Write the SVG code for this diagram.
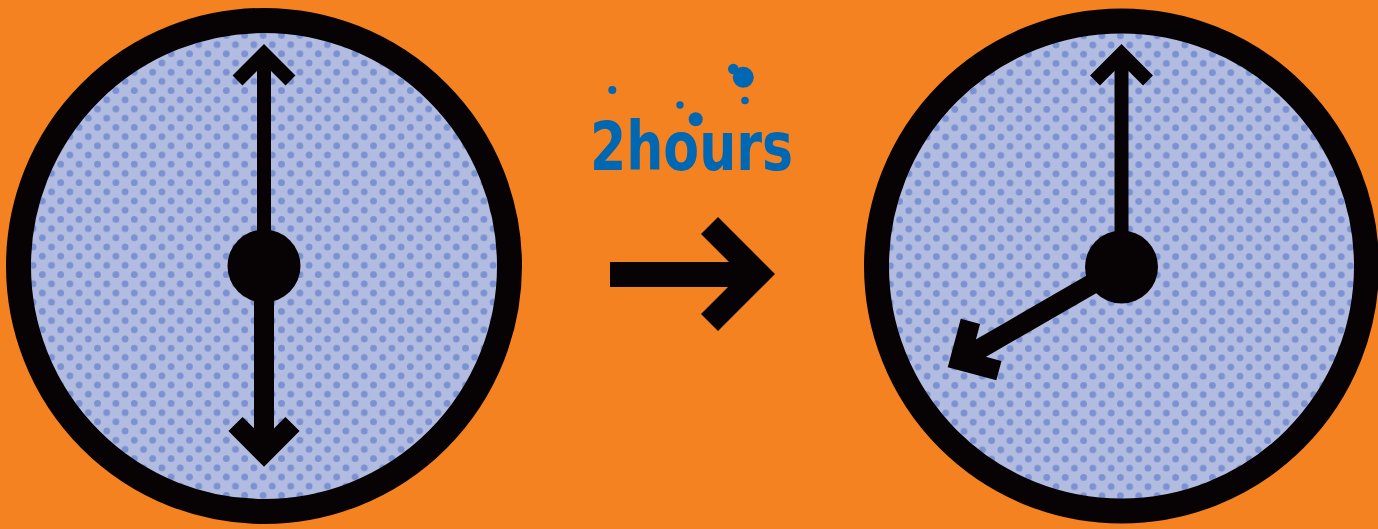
<svg xmlns="http://www.w3.org/2000/svg" width="1378" height="529" viewBox="0 0 1378 529">
  <defs>
    <pattern id="dotsL" x="106.7" y="155" width="18.4" height="18.4" patternUnits="userSpaceOnUse">
      <rect width="18.4" height="18.4" fill="#B1BCE0"/>
      <circle cx="0" cy="0" r="3.4" fill="#7B91D2"/>
      <circle cx="18.4" cy="0" r="3.4" fill="#7B91D2"/>
      <circle cx="0" cy="18.4" r="3.4" fill="#7B91D2"/>
      <circle cx="18.4" cy="18.4" r="3.4" fill="#7B91D2"/>
      <circle cx="9.2" cy="9.2" r="3.4" fill="#7B91D2"/>
    </pattern>
    <pattern id="dotsR" x="1056" y="45" width="18.4" height="18.4" patternUnits="userSpaceOnUse">
      <rect width="18.4" height="18.4" fill="#B1BCE0"/>
      <circle cx="0" cy="0" r="3.4" fill="#7B91D2"/>
      <circle cx="18.4" cy="0" r="3.4" fill="#7B91D2"/>
      <circle cx="0" cy="18.4" r="3.4" fill="#7B91D2"/>
      <circle cx="18.4" cy="18.4" r="3.4" fill="#7B91D2"/>
      <circle cx="9.2" cy="9.2" r="3.4" fill="#7B91D2"/>
    </pattern>
  </defs>
  <style>
    .ring { stroke: #070203; stroke-width: 25; }
    .hand { fill: none; stroke: #070203; stroke-linejoin: miter; stroke-linecap: butt; }
    .thin { stroke-width: 14; }
    .thick { stroke-width: 20; }
    .hub { fill: #070203; }
    .blue { fill: #0067B2; }
  </style>
  <rect width="1378" height="529" fill="#F58220"/>

  <g id="clock-left">
    <circle class="ring" cx="264" cy="266" r="245.5" fill="url(#dotsL)"/>
    <path class="hand thin" d="M264 266 V54 M237.5 80.5 L264 54 L290.5 80.5"/>
    <path class="hand thick" d="M264 266 V452.5 M235.5 424 L264 452.5 L292.5 424"/>
    <circle class="hub" cx="264" cy="266" r="36.5"/>
  </g>

  <g id="label-2hours">
    <circle class="blue" cx="612.3" cy="90" r="4"/>
    <circle class="blue" cx="680" cy="105" r="3.7"/>
    <circle class="blue" cx="695.7" cy="119.3" r="7"/>
    <circle class="blue" cx="733.3" cy="69" r="5.3"/>
    <circle class="blue" cx="743.3" cy="77.3" r="10.5"/>
    <circle class="blue" cx="745" cy="100.5" r="3.8"/>
    <text x="590" y="170" class="blue" font-family="DejaVu Sans, sans-serif" font-weight="bold" font-size="67" textLength="203" lengthAdjust="spacingAndGlyphs">2hours</text>
  </g>

  <g id="connectors">
    <polygon fill="#070203" points="610,262 729,262 701,234 718,217 775,274 718,331 701,314 728,287 610,287"/>
  </g>

  <g id="clock-right">
    <circle class="ring" cx="1121.5" cy="266" r="245" fill="url(#dotsR)"/>
    <path class="hand thin" d="M1121.5 266 V54 M1095 80.5 L1121.5 54 L1148 80.5"/>
    <g transform="translate(1121.5 267) rotate(60)">
      <path class="hand thick" d="M0 0 V186.5 M-28.5 158 L0 186.5 L28.5 158"/>
    </g>
    <circle class="hub" cx="1121.5" cy="267" r="36.5"/>
  </g>
</svg>
